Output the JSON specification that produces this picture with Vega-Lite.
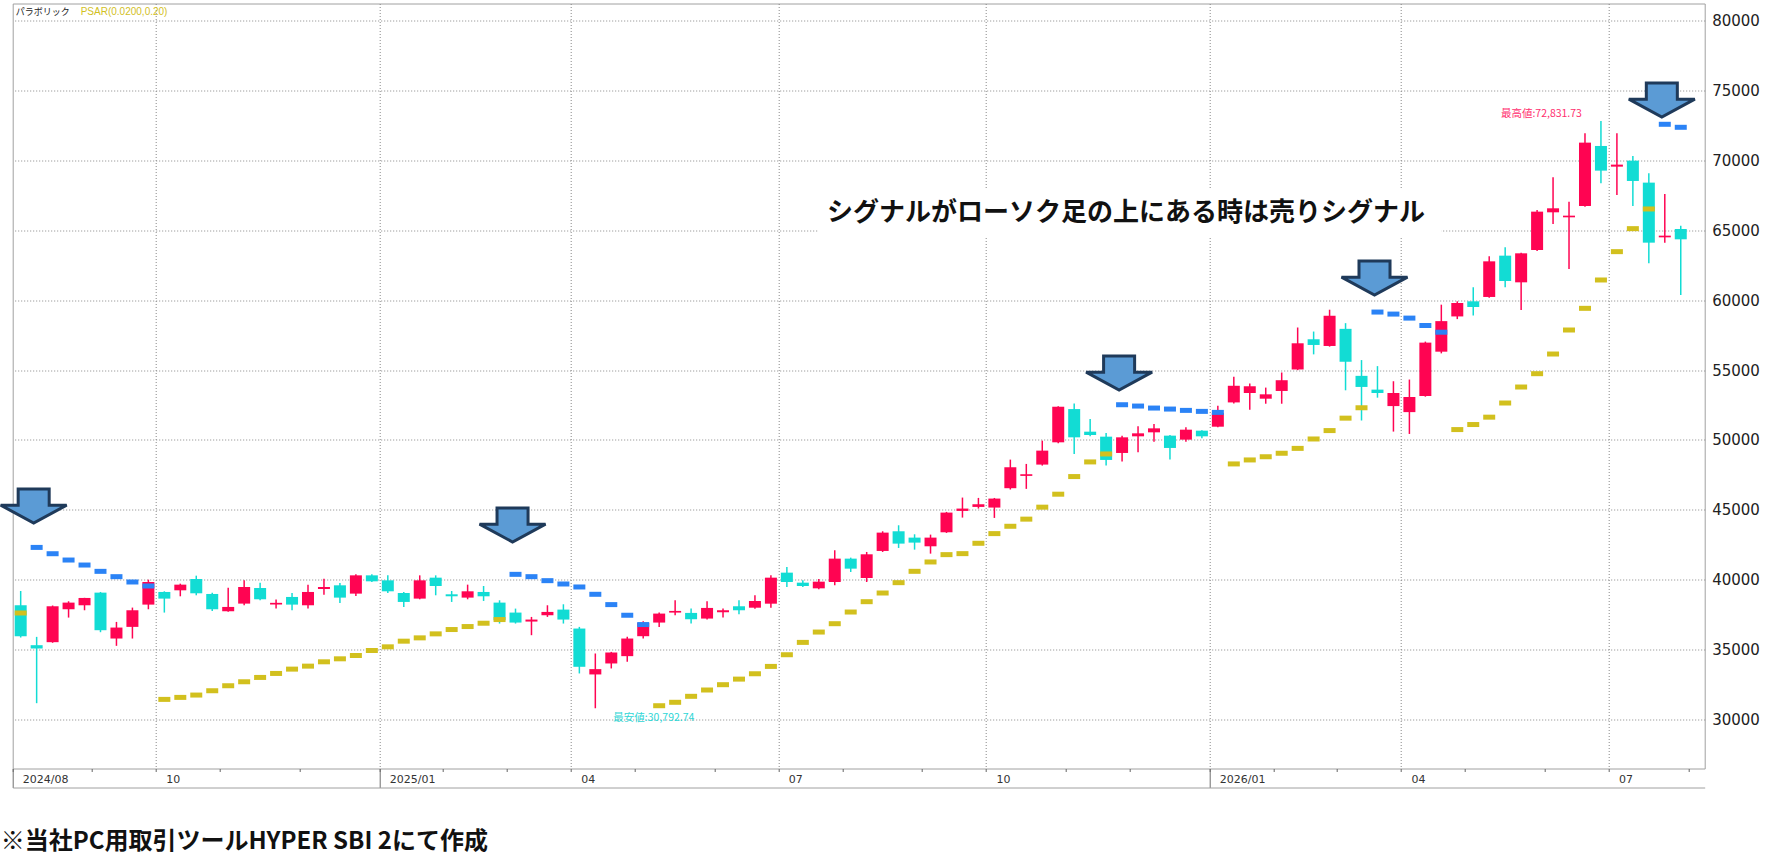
{
  "$schema": "https://vega.github.io/schema/vega-lite/v6.json",
  "width": 1692,
  "height": 765,
  "autosize": {"type": "none"},
  "padding": {"left": 12.7, "top": 3.5, "right": 76.3, "bottom": 86.5},
  "background": "white",
  "config": {
    "view": {"stroke": "#A0A0A0", "strokeWidth": 1},
    "font": "Noto Sans CJK JP"
  },
  "title": {
    "text": "※当社PC用取引ツールHYPER SBI 2にて作成",
    "orient": "bottom",
    "anchor": "start",
    "offset": 42,
    "dx": 6,
    "font": "Noto Sans CJK JP",
    "fontSize": 24,
    "fontWeight": "bold",
    "color": "#111111"
  },
  "datasets": {
    "weekly": [
      {"d": "2024-07-29", "o": 38166, "h": 39190, "l": 35857, "c": 35952, "sar": 37619, "side": "B"},
      {"d": "2024-08-05", "o": 35309, "h": 35904, "l": 31156, "c": 35071, "sar": 42309, "side": "S"},
      {"d": "2024-08-12", "o": 35524, "h": 38150, "l": 35480, "c": 38095, "sar": 41857, "side": "S"},
      {"d": "2024-08-19", "o": 37881, "h": 38452, "l": 37285, "c": 38357, "sar": 41405, "side": "S"},
      {"d": "2024-08-26", "o": 38166, "h": 38700, "l": 37809, "c": 38690, "sar": 41047, "side": "S"},
      {"d": "2024-09-02", "o": 39071, "h": 39119, "l": 36238, "c": 36381, "sar": 40595, "side": "S"},
      {"d": "2024-09-09", "o": 35785, "h": 36976, "l": 35262, "c": 36571, "sar": 40214, "side": "S"},
      {"d": "2024-09-16", "o": 36619, "h": 38000, "l": 35785, "c": 37809, "sar": 39833, "side": "S"},
      {"d": "2024-09-23", "o": 38214, "h": 40000, "l": 37881, "c": 39833, "sar": 39547, "side": "S"},
      {"d": "2024-09-30", "o": 39119, "h": 39167, "l": 37643, "c": 38643, "sar": 31428, "side": "B"},
      {"d": "2024-10-07", "o": 39238, "h": 39714, "l": 38809, "c": 39643, "sar": 31571, "side": "B"},
      {"d": "2024-10-14", "o": 40047, "h": 40286, "l": 38881, "c": 39024, "sar": 31738, "side": "B"},
      {"d": "2024-10-21", "o": 38976, "h": 39071, "l": 37762, "c": 37881, "sar": 32047, "side": "B"},
      {"d": "2024-10-28", "o": 37738, "h": 39428, "l": 37700, "c": 38047, "sar": 32405, "side": "B"},
      {"d": "2024-11-04", "o": 38285, "h": 39952, "l": 38166, "c": 39476, "sar": 32690, "side": "B"},
      {"d": "2024-11-11", "o": 39405, "h": 39785, "l": 38524, "c": 38595, "sar": 33000, "side": "B"},
      {"d": "2024-11-18", "o": 38220, "h": 38571, "l": 37928, "c": 38340, "sar": 33285, "side": "B"},
      {"d": "2024-11-25", "o": 38762, "h": 39048, "l": 37809, "c": 38214, "sar": 33595, "side": "B"},
      {"d": "2024-12-02", "o": 38166, "h": 39643, "l": 37928, "c": 39119, "sar": 33809, "side": "B"},
      {"d": "2024-12-09", "o": 39333, "h": 40071, "l": 38928, "c": 39476, "sar": 34119, "side": "B"},
      {"d": "2024-12-16", "o": 39595, "h": 39762, "l": 38333, "c": 38714, "sar": 34333, "side": "B"},
      {"d": "2024-12-23", "o": 39000, "h": 40381, "l": 38833, "c": 40309, "sar": 34571, "side": "B"},
      {"d": "2024-12-30", "o": 40309, "h": 40381, "l": 39833, "c": 39881, "sar": 34928, "side": "B"},
      {"d": "2025-01-06", "o": 39952, "h": 40309, "l": 39048, "c": 39166, "sar": 35191, "side": "B"},
      {"d": "2025-01-13", "o": 39047, "h": 39119, "l": 38047, "c": 38405, "sar": 35596, "side": "B"},
      {"d": "2025-01-20", "o": 38643, "h": 40309, "l": 38595, "c": 39952, "sar": 35833, "side": "B"},
      {"d": "2025-01-27", "o": 40143, "h": 40309, "l": 38881, "c": 39547, "sar": 36119, "side": "B"},
      {"d": "2025-02-03", "o": 38952, "h": 39190, "l": 38405, "c": 38810, "sar": 36429, "side": "B"},
      {"d": "2025-02-10", "o": 38714, "h": 39643, "l": 38595, "c": 39166, "sar": 36643, "side": "B"},
      {"d": "2025-02-17", "o": 39119, "h": 39547, "l": 38476, "c": 38809, "sar": 36881, "side": "B"},
      {"d": "2025-02-24", "o": 38357, "h": 38524, "l": 36857, "c": 37095, "sar": 37143, "side": "B"},
      {"d": "2025-03-03", "o": 37643, "h": 37928, "l": 36857, "c": 36928, "sar": 40381, "side": "S"},
      {"d": "2025-03-10", "o": 37000, "h": 37333, "l": 36024, "c": 37143, "sar": 40214, "side": "S"},
      {"d": "2025-03-17", "o": 37452, "h": 38166, "l": 37333, "c": 37690, "sar": 39928, "side": "S"},
      {"d": "2025-03-24", "o": 37857, "h": 38238, "l": 36857, "c": 37143, "sar": 39690, "side": "S"},
      {"d": "2025-03-31", "o": 36500, "h": 36619, "l": 33285, "c": 33762, "sar": 39476, "side": "S"},
      {"d": "2025-04-07", "o": 33214, "h": 34714, "l": 30792.74, "c": 33595, "sar": 38952, "side": "S"},
      {"d": "2025-04-14", "o": 34000, "h": 34830, "l": 33643, "c": 34785, "sar": 38214, "side": "S"},
      {"d": "2025-04-21", "o": 34524, "h": 35905, "l": 34119, "c": 35785, "sar": 37452, "side": "S"},
      {"d": "2025-04-28", "o": 35952, "h": 37024, "l": 35785, "c": 36905, "sar": 36785, "side": "S"},
      {"d": "2025-05-05", "o": 36928, "h": 37643, "l": 36619, "c": 37571, "sar": 30975, "side": "B"},
      {"d": "2025-05-12", "o": 37643, "h": 38524, "l": 37452, "c": 37762, "sar": 31220, "side": "B"},
      {"d": "2025-05-19", "o": 37619, "h": 37928, "l": 36857, "c": 37166, "sar": 31648, "side": "B"},
      {"d": "2025-05-26", "o": 37214, "h": 38452, "l": 37143, "c": 37976, "sar": 32100, "side": "B"},
      {"d": "2025-06-02", "o": 37666, "h": 37928, "l": 37286, "c": 37810, "sar": 32480, "side": "B"},
      {"d": "2025-06-09", "o": 38095, "h": 38524, "l": 37524, "c": 37809, "sar": 32880, "side": "B"},
      {"d": "2025-06-16", "o": 37993, "h": 38877, "l": 37915, "c": 38471, "sar": 33263, "side": "B"},
      {"d": "2025-06-23", "o": 38280, "h": 40311, "l": 37993, "c": 40143, "sar": 33789, "side": "B"},
      {"d": "2025-06-30", "o": 40502, "h": 40908, "l": 39474, "c": 39833, "sar": 34625, "side": "B"},
      {"d": "2025-07-07", "o": 39785, "h": 39952, "l": 39474, "c": 39546, "sar": 35509, "side": "B"},
      {"d": "2025-07-14", "o": 39379, "h": 40048, "l": 39307, "c": 39857, "sar": 36249, "side": "B"},
      {"d": "2025-07-21", "o": 39833, "h": 42102, "l": 39594, "c": 41505, "sar": 36847, "side": "B"},
      {"d": "2025-07-28", "o": 41505, "h": 41577, "l": 40550, "c": 40788, "sar": 37683, "side": "B"},
      {"d": "2025-08-04", "o": 40119, "h": 41983, "l": 39833, "c": 41816, "sar": 38423, "side": "B"},
      {"d": "2025-08-11", "o": 42055, "h": 43464, "l": 41983, "c": 43368, "sar": 39044, "side": "B"},
      {"d": "2025-08-18", "o": 43464, "h": 43894, "l": 42270, "c": 42580, "sar": 39785, "side": "B"},
      {"d": "2025-08-25", "o": 43010, "h": 43249, "l": 42150, "c": 42652, "sar": 40597, "side": "B"},
      {"d": "2025-09-01", "o": 42389, "h": 43225, "l": 41863, "c": 43010, "sar": 41266, "side": "B"},
      {"d": "2025-09-08", "o": 43392, "h": 44850, "l": 43345, "c": 44802, "sar": 41792, "side": "B"},
      {"d": "2025-09-15", "o": 44921, "h": 45877, "l": 44444, "c": 45089, "sar": 41863, "side": "B"},
      {"d": "2025-09-22", "o": 45208, "h": 45853, "l": 45089, "c": 45399, "sar": 42604, "side": "B"},
      {"d": "2025-09-29", "o": 45161, "h": 45850, "l": 44420, "c": 45805, "sar": 43297, "side": "B"},
      {"d": "2025-10-06", "o": 46548, "h": 48595, "l": 46452, "c": 48048, "sar": 43822, "side": "B"},
      {"d": "2025-10-13", "o": 47429, "h": 48286, "l": 46500, "c": 47548, "sar": 44333, "side": "B"},
      {"d": "2025-10-20", "o": 48238, "h": 49952, "l": 48167, "c": 49238, "sar": 45190, "side": "B"},
      {"d": "2025-10-27", "o": 49833, "h": 52420, "l": 49762, "c": 52381, "sar": 46119, "side": "B"},
      {"d": "2025-11-03", "o": 52214, "h": 52619, "l": 49000, "c": 50190, "sar": 47381, "side": "B"},
      {"d": "2025-11-10", "o": 50595, "h": 51500, "l": 50262, "c": 50357, "sar": 48429, "side": "B"},
      {"d": "2025-11-17", "o": 50238, "h": 50500, "l": 48167, "c": 48571, "sar": 49000, "side": "B"},
      {"d": "2025-11-24", "o": 49071, "h": 50310, "l": 48452, "c": 50190, "sar": 52524, "side": "S"},
      {"d": "2025-12-01", "o": 50262, "h": 50976, "l": 49119, "c": 50476, "sar": 52429, "side": "S"},
      {"d": "2025-12-08", "o": 50548, "h": 51143, "l": 49881, "c": 50833, "sar": 52286, "side": "S"},
      {"d": "2025-12-15", "o": 50310, "h": 50357, "l": 48595, "c": 49429, "sar": 52214, "side": "S"},
      {"d": "2025-12-22", "o": 50024, "h": 50905, "l": 49881, "c": 50738, "sar": 52119, "side": "S"},
      {"d": "2025-12-29", "o": 50667, "h": 50700, "l": 50119, "c": 50262, "sar": 52048, "side": "S"},
      {"d": "2026-01-05", "o": 50952, "h": 52452, "l": 50905, "c": 51929, "sar": 51976, "side": "S"},
      {"d": "2026-01-12", "o": 52690, "h": 54524, "l": 52619, "c": 53881, "sar": 48286, "side": "B"},
      {"d": "2026-01-19", "o": 53365, "h": 54038, "l": 52163, "c": 53846, "sar": 48571, "side": "B"},
      {"d": "2026-01-26", "o": 52957, "h": 53750, "l": 52596, "c": 53269, "sar": 48800, "side": "B"},
      {"d": "2026-02-02", "o": 53510, "h": 54832, "l": 52596, "c": 54279, "sar": 49050, "side": "B"},
      {"d": "2026-02-09", "o": 55048, "h": 58053, "l": 55000, "c": 56923, "sar": 49399, "side": "B"},
      {"d": "2026-02-16", "o": 57211, "h": 57764, "l": 56130, "c": 56803, "sar": 50072, "side": "B"},
      {"d": "2026-02-23", "o": 56731, "h": 59327, "l": 56683, "c": 58894, "sar": 50673, "side": "B"},
      {"d": "2026-03-02", "o": 57957, "h": 58365, "l": 53557, "c": 55601, "sar": 51563, "side": "B"},
      {"d": "2026-03-09", "o": 54591, "h": 55721, "l": 51394, "c": 53798, "sar": 52307, "side": "B"},
      {"d": "2026-03-16", "o": 53606, "h": 55288, "l": 53029, "c": 53365, "sar": 59159, "side": "S"},
      {"d": "2026-03-23", "o": 52427, "h": 54206, "l": 50601, "c": 53365, "sar": 59014, "side": "S"},
      {"d": "2026-03-30", "o": 51995, "h": 54327, "l": 50432, "c": 53077, "sar": 58726, "side": "S"},
      {"d": "2026-04-06", "o": 53149, "h": 57043, "l": 53100, "c": 56971, "sar": 58197, "side": "S"},
      {"d": "2026-04-13", "o": 56322, "h": 59688, "l": 56202, "c": 58510, "sar": 57716, "side": "S"},
      {"d": "2026-04-20", "o": 58846, "h": 59928, "l": 58654, "c": 59808, "sar": 50745, "side": "B"},
      {"d": "2026-04-27", "o": 59928, "h": 60938, "l": 58918, "c": 59519, "sar": 51106, "side": "B"},
      {"d": "2026-05-04", "o": 60240, "h": 63150, "l": 60190, "c": 62790, "sar": 51634, "side": "B"},
      {"d": "2026-05-11", "o": 63197, "h": 63794, "l": 60929, "c": 61383, "sar": 52647, "side": "B"},
      {"d": "2026-05-18", "o": 61287, "h": 63400, "l": 59306, "c": 63364, "sar": 53792, "side": "B"},
      {"d": "2026-05-25", "o": 63603, "h": 66467, "l": 63531, "c": 66348, "sar": 54747, "side": "B"},
      {"d": "2026-06-01", "o": 66300, "h": 68807, "l": 65465, "c": 66587, "sar": 56155, "side": "B"},
      {"d": "2026-06-08", "o": 65942, "h": 67064, "l": 62242, "c": 66061, "sar": 57874, "side": "B"},
      {"d": "2026-06-15", "o": 66754, "h": 71957, "l": 66706, "c": 71289, "sar": 59425, "side": "B"},
      {"d": "2026-06-22", "o": 71050, "h": 72831.73, "l": 68377, "c": 69284, "sar": 61455, "side": "B"},
      {"d": "2026-06-29", "o": 69570, "h": 71957, "l": 67541, "c": 69714, "sar": 63484, "side": "B"},
      {"d": "2026-07-06", "o": 70000, "h": 70334, "l": 66754, "c": 68544, "sar": 65131, "side": "B"},
      {"d": "2026-07-13", "o": 68425, "h": 69093, "l": 62648, "c": 64128, "sar": 66539, "side": "B"},
      {"d": "2026-07-20", "o": 64509, "h": 67613, "l": 64128, "c": 64629, "sar": 72602, "side": "S"},
      {"d": "2026-07-27", "o": 65107, "h": 65345, "l": 60380, "c": 64367, "sar": 72387, "side": "S"}
    ],
    "arrows": [
      {"d": "2024-08-05", "v": 44057},
      {"d": "2025-03-03", "v": 42696},
      {"d": "2025-11-24", "v": 53580},
      {"d": "2026-03-16", "v": 60382},
      {"d": "2026-07-20", "v": 73126}
    ],
    "box": [
      {"d": "2025-07-14", "d2": "2026-04-13", "v": 68043, "v2": 64463}
    ],
    "note": [
      {"d": "2025-11-24", "v": 66253, "t": "シグナルがローソク足の上にある時は売りシグナル"}
    ],
    "hi": [
      {"d": "2026-06-22", "v": 72831.73, "t": "最高値:72,831.73"}
    ],
    "lo": [
      {"d": "2025-04-07", "v": 30792.74, "t": "最安値:30,792.74"}
    ]
  },
  "resolve": {"axis": {"x": "independent", "y": "independent"}},
  "layer": [
    {
      "data": {"name": "box"},
      "mark": {"type": "rect", "color": "white"},
      "encoding": {
        "x": {"field": "d", "type": "ordinal", "axis": null},
        "x2": {"field": "d2"},
        "y": {"field": "v", "type": "quantitative", "axis": null},
        "y2": {"field": "v2"}
      }
    },
    {
      "data": {"name": "weekly"},
      "mark": {"type": "rule", "strokeWidth": 1.5},
      "encoding": {
        "x": {
          "field": "d",
          "type": "ordinal",
          "scale": {
            "type": "band",
            "paddingInner": 0,
            "paddingOuter": 0,
            "domain": [
              "2024-07-29", "2024-08-05", "2024-08-12", "2024-08-19", "2024-08-26", "2024-09-02", "2024-09-09", "2024-09-16", "2024-09-23", "2024-09-30",
              "2024-10-07", "2024-10-14", "2024-10-21", "2024-10-28", "2024-11-04", "2024-11-11", "2024-11-18", "2024-11-25", "2024-12-02", "2024-12-09",
              "2024-12-16", "2024-12-23", "2024-12-30", "2025-01-06", "2025-01-13", "2025-01-20", "2025-01-27", "2025-02-03", "2025-02-10", "2025-02-17",
              "2025-02-24", "2025-03-03", "2025-03-10", "2025-03-17", "2025-03-24", "2025-03-31", "2025-04-07", "2025-04-14", "2025-04-21", "2025-04-28",
              "2025-05-05", "2025-05-12", "2025-05-19", "2025-05-26", "2025-06-02", "2025-06-09", "2025-06-16", "2025-06-23", "2025-06-30", "2025-07-07",
              "2025-07-14", "2025-07-21", "2025-07-28", "2025-08-04", "2025-08-11", "2025-08-18", "2025-08-25", "2025-09-01", "2025-09-08", "2025-09-15",
              "2025-09-22", "2025-09-29", "2025-10-06", "2025-10-13", "2025-10-20", "2025-10-27", "2025-11-03", "2025-11-10", "2025-11-17", "2025-11-24",
              "2025-12-01", "2025-12-08", "2025-12-15", "2025-12-22", "2025-12-29", "2026-01-05", "2026-01-12", "2026-01-19", "2026-01-26", "2026-02-02",
              "2026-02-09", "2026-02-16", "2026-02-23", "2026-03-02", "2026-03-09", "2026-03-16", "2026-03-23", "2026-03-30", "2026-04-06", "2026-04-13",
              "2026-04-20", "2026-04-27", "2026-05-04", "2026-05-11", "2026-05-18", "2026-05-25", "2026-06-01", "2026-06-08", "2026-06-15", "2026-06-22",
              "2026-06-29", "2026-07-06", "2026-07-13", "2026-07-20", "2026-07-27", "2026-08-03"
            ]
          },
          "axis": {
            "orient": "bottom",
            "title": null,
            "values": [
              "2024-07-29", "2024-09-02", "2024-09-30", "2024-10-28", "2024-12-02", "2025-01-06", "2025-02-03", "2025-03-03", "2025-03-31",
              "2025-04-28", "2025-06-02", "2025-06-30", "2025-07-28", "2025-09-01", "2025-09-29", "2025-11-03", "2025-12-01", "2026-01-05",
              "2026-02-02", "2026-03-02", "2026-03-30", "2026-04-27", "2026-06-01", "2026-06-29", "2026-08-03"
            ],
            "bandPosition": 0,
            "grid": false,
            "domain": false,
            "ticks": true,
            "tickSize": 3,
            "tickColor": "#666666",
            "labelExpr": "datum.value == '2024-07-29' ? '2024/08' : datum.value == '2024-09-30' ? '10' : datum.value == '2025-01-06' ? '2025/01' : datum.value == '2025-03-31' ? '04' : datum.value == '2025-06-30' ? '07' : datum.value == '2025-09-29' ? '10' : datum.value == '2026-01-05' ? '2026/01' : datum.value == '2026-03-30' ? '04' : datum.value == '2026-06-29' ? '07' : ''",
            "labelAngle": 0,
            "labelAlign": "left",
            "labelBaseline": "top",
            "labelPadding": 2,
            "labelOffset": 2,
            "labelOverlap": false,
            "labelBound": false,
            "labelFlush": false,
            "labelFont": "DejaVu Sans",
            "labelFontSize": 11,
            "labelColor": "#333333"
          }
        },
        "y": {
          "field": "l",
          "type": "quantitative",
          "scale": {"domain": [26480, 81250], "nice": false, "zero": false},
          "axis": {
            "orient": "right",
            "title": null,
            "values": [30000, 35000, 40000, 45000, 50000, 55000, 60000, 65000, 70000, 75000, 80000],
            "format": "d",
            "domain": false,
            "ticks": false,
            "labelPadding": 7,
            "labelFont": "DejaVu Sans",
            "labelFontSize": 15,
            "labelColor": "#222222",
            "grid": true,
            "gridColor": "#888888",
            "gridDash": [1, 2],
            "gridWidth": 1
          }
        },
        "y2": {"field": "h"},
        "color": {"condition": {"test": "datum.c >= datum.o", "value": "#FF0452"}, "value": "#12DCD4"}
      }
    },
    {
      "data": {"name": "weekly"},
      "mark": {"type": "bar", "width": 12},
      "encoding": {
        "x": {
          "field": "d",
          "type": "ordinal",
          "axis": {
            "orient": "bottom",
            "title": null,
            "values": ["2024-09-30", "2025-01-06", "2025-03-31", "2025-06-30", "2025-09-29", "2026-01-05", "2026-03-30", "2026-06-29"],
            "bandPosition": 0,
            "grid": true,
            "gridColor": "#888888",
            "gridDash": [1, 2],
            "gridWidth": 1,
            "ticks": false,
            "labels": false,
            "domain": false
          }
        },
        "y": {"field": "o", "type": "quantitative", "axis": null},
        "y2": {"field": "c"},
        "color": {"condition": {"test": "datum.c >= datum.o", "value": "#FF0452"}, "value": "#12DCD4"}
      }
    },
    {
      "data": {"name": "weekly"},
      "mark": {"type": "tick", "thickness": 5, "size": 12, "opacity": 1},
      "encoding": {
        "x": {
          "field": "d",
          "type": "ordinal",
          "axis": {
            "orient": "bottom",
            "title": null,
            "values": ["2024-07-29", "2025-01-06", "2026-01-05"],
            "bandPosition": 0,
            "grid": false,
            "labels": false,
            "domain": false,
            "ticks": true,
            "tickSize": 19,
            "tickColor": "#6E6E6E",
            "tickWidth": 1
          }
        },
        "y": {"field": "sar", "type": "quantitative", "axis": null},
        "color": {
          "datum": "PSAR(0.0200,0.20)",
          "type": "nominal",
          "scale": {"range": ["#D2C01E"]},
          "condition": {"test": "datum.side == 'S'", "value": "#2B83F6"},
          "legend": {
            "orient": "top-left",
            "offset": 3,
            "padding": 0,
            "title": "パラボリック",
            "titleOrient": "left",
            "titleFont": "Noto Sans CJK JP",
            "titleFontSize": 9,
            "titleFontWeight": "normal",
            "titleColor": "#222222",
            "titlePadding": 0,
            "labelFont": "Liberation Sans",
            "labelFontSize": 10,
            "labelColor": "#D2C01E",
            "labelOffset": 0,
            "symbolSize": 0,
            "symbolOpacity": 0,
            "symbolStrokeWidth": 0
          }
        }
      }
    },
    {
      "data": {"name": "arrows"},
      "mark": {
        "type": "point",
        "shape": "M-0.56,-1.03 L0.38,-1.03 L0.38,-0.54 L0.91,-0.54 L-0.09,0 L-1.09,-0.54 L-0.56,-0.54 Z",
        "size": 4356,
        "filled": true,
        "fill": "#5B9BD5",
        "stroke": "#1F3A5A",
        "strokeWidth": 3,
        "strokeJoin": "miter",
        "opacity": 1
      },
      "encoding": {
        "x": {
          "field": "d",
          "type": "ordinal",
          "axis": {
            "orient": "bottom",
            "title": null,
            "offset": 19,
            "domain": true,
            "domainColor": "#A0A0A0",
            "domainWidth": 1,
            "ticks": false,
            "labels": false,
            "grid": false
          }
        },
        "y": {"field": "v", "type": "quantitative", "axis": null}
      }
    },
    {
      "data": {"name": "note"},
      "mark": {"type": "text", "font": "Noto Sans CJK JP", "fontSize": 26, "fontWeight": "bold", "color": "#111111", "align": "center", "baseline": "middle", "dx": 4},
      "encoding": {
        "x": {"field": "d", "type": "ordinal", "axis": null},
        "y": {"field": "v", "type": "quantitative", "axis": null},
        "text": {"field": "t"}
      }
    },
    {
      "data": {"name": "hi"},
      "mark": {"type": "text", "font": "Noto Sans CJK JP", "fontSize": 10.5, "color": "#FF2D6E", "align": "right", "baseline": "middle", "dx": -19, "dy": -7},
      "encoding": {
        "x": {"field": "d", "type": "ordinal", "axis": null},
        "y": {"field": "v", "type": "quantitative", "axis": null},
        "text": {"field": "t"}
      }
    },
    {
      "data": {"name": "lo"},
      "mark": {"type": "text", "font": "Noto Sans CJK JP", "fontSize": 10.5, "color": "#2ED6D6", "align": "left", "baseline": "middle", "dx": 18, "dy": 10},
      "encoding": {
        "x": {"field": "d", "type": "ordinal", "axis": null},
        "y": {"field": "v", "type": "quantitative", "axis": null},
        "text": {"field": "t"}
      }
    }
  ]
}
